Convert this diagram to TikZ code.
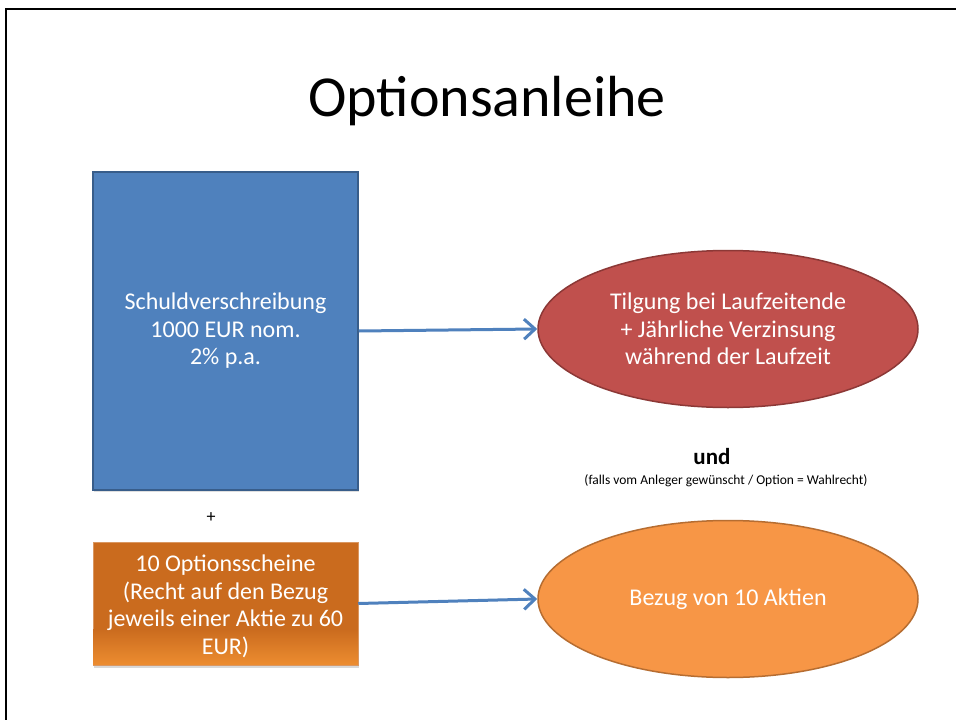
\documentclass[tikz,border=0pt]{standalone}
\usepackage{fontspec}
\setmainfont{Carlito}
\usetikzlibrary{shapes.geometric,arrows.meta,shadows,calc}
\definecolor{bluefill}{HTML}{4F81BD}
\definecolor{blueline}{HTML}{385D8A}
\definecolor{redfill}{HTML}{C0504D}
\definecolor{redline}{HTML}{8C3836}
\definecolor{orfill}{HTML}{F79646}
\definecolor{orline}{HTML}{B66D31}
\definecolor{boxor}{HTML}{CA6B1E}
\definecolor{boxorlight}{HTML}{EC8C30}
\tikzset{
  bodytext/.style={text=white,font=\fontsize{24}{27.5}\selectfont,align=center},
  bluebox/.style={bodytext,rectangle,fill=bluefill,draw=blueline,line width=1.5pt,
    minimum width=265pt,minimum height=318pt,inner sep=0pt,
    drop shadow={opacity=0.25,shadow xshift=1pt,shadow yshift=-2pt}},
  orbox/.style={rectangle,draw=boxor!70!white,line width=0.5pt,
    minimum width=265pt,minimum height=123pt,inner sep=0pt,
    drop shadow={opacity=0.3,shadow xshift=1pt,shadow yshift=-2.5pt}},
  oval/.style={bodytext,ellipse,line width=1.5pt,minimum width=380pt,minimum height=157pt,inner sep=0pt},
  connector/.style={draw=bluefill,line width=3pt,-{Straight Barb[length=11pt,width=20pt]}},
  frameline/.style={line width=2pt,black}
}
\begin{document}
\begin{tikzpicture}[x=1pt,y=-1pt]
\useasboundingbox (0,0) rectangle (956,720);
\fill[white] (0,0) rectangle (956,720);
\coordinate (fl) at (6,720);
\coordinate (fc) at (6,9);
\coordinate (fr) at (956,9);
\draw[frameline] (fl) -- (fc) -- (fr);

\node (title) at (487,101) {\fontsize{58}{60}\selectfont Optionsanleihe};

\node[bluebox] (schuld) at (225.5,331) {Schuldverschreibung\\1000 EUR nom.\\2\% p.a.};

\node[orbox,fill=boxor] (opt) at (225.5,603.5) {};
\foreach \i in {0,...,35}{
  \pgfmathsetmacro{\pct}{100*\i/35}
  \fill[boxorlight!\pct!boxor] ($(opt.south west)+(0.3,{-36+\i})$) rectangle ($(opt.south east)+(-0.3,{-35+\i-0.3})$);
}
\node[bodytext] (opttext) at ($(opt.center)+(0,3)$) {10 Optionsscheine\\(Recht auf den Bezug\\jeweils einer Aktie zu 60\\EUR)};

\node[oval,fill=redfill,draw=redline] (tilg) at (728,329) {Tilgung bei Laufzeitende\\+ Jährliche Verzinsung\\während der Laufzeit};
\node[oval,fill=orfill,draw=orline] (bezug) at (728,599) {Bezug von 10 Aktien};

\node (plus) at (211,518) {\fontsize{18}{20}\selectfont +};
\node (und) at (712,457) {\fontsize{23}{26}\selectfont\bfseries und};
\node (falls) at (726,481) {\fontsize{13.5}{15}\selectfont (falls vom Anleger gewünscht / Option = Wahlrecht)};

\draw[connector] (schuld.east) -- (tilg.west);
\draw[connector] (opt.east) -- (bezug.west);
\end{tikzpicture}
\end{document}
